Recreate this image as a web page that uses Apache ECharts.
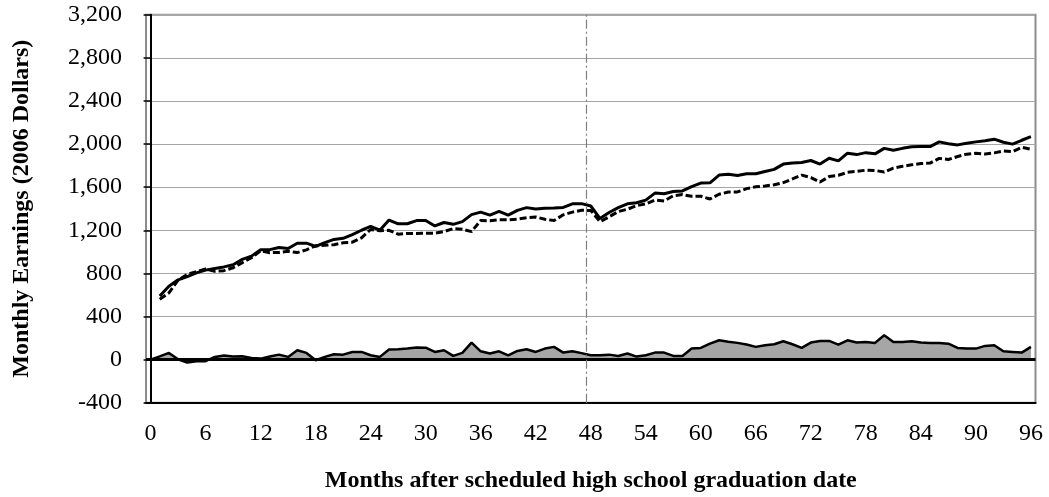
<!DOCTYPE html>
<html>
<head>
<meta charset="utf-8">
<script src="https://cdn.jsdelivr.net/npm/echarts@6/dist/echarts.min.js"></script>
<style>
html, body { margin: 0; padding: 0; background: #ffffff; }
#chart { width: 1049px; height: 497px; }
</style>
</head>
<body>
<div id="chart"></div>
<script>
// Months after scheduled high school graduation date (categories)
const months = [];
for (let m = 0; m <= 96; m++) months.push(String(m));

// Solid line: monthly earnings, group A (2006 dollars)
const solidEarnings = [null,
  590, 680, 740, 770, 805, 830, 845, 860, 880, 930,
  960, 1020, 1020, 1040, 1030, 1080, 1080, 1050, 1085, 1115,
  1125, 1160, 1200, 1235, 1200, 1295, 1260, 1260, 1290, 1290,
  1240, 1272, 1255, 1280, 1345, 1368, 1340, 1375, 1340, 1385,
  1410, 1398, 1405, 1407, 1412, 1445, 1447, 1425, 1310, 1365,
  1410, 1445, 1455, 1480, 1545, 1538, 1560, 1565, 1605, 1638,
  1640, 1712, 1720, 1708, 1724, 1724, 1745, 1765, 1814, 1823,
  1828, 1847, 1814, 1868, 1844, 1915, 1902, 1920, 1909, 1960,
  1942, 1960, 1975, 1976, 1976, 2020, 2003, 1992, 2008, 2020,
  2030, 2045, 2017, 1999, 2035, 2068];

// Dashed line: monthly earnings, group B (2006 dollars)
const dashedEarnings = [null,
  560, 618, 737, 790, 815, 840, 820, 825, 852, 899,
  945, 1011, 992, 994, 1005, 993, 1018, 1056, 1060, 1066,
  1084, 1089, 1130, 1207, 1195, 1200, 1163, 1170, 1170, 1172,
  1172, 1188, 1215, 1210, 1187, 1291, 1288, 1298, 1297, 1303,
  1316, 1323, 1302, 1290, 1343, 1368, 1385, 1384, 1280, 1325,
  1373, 1395, 1428, 1445, 1481, 1472, 1520, 1531, 1515, 1515,
  1490, 1534, 1555, 1556, 1586, 1603, 1611, 1622, 1642, 1676,
  1712, 1689, 1647, 1698, 1710, 1737, 1747, 1757, 1755, 1740,
  1777, 1794, 1807, 1819, 1823, 1867, 1857, 1884, 1906, 1914,
  1908, 1918, 1935, 1930, 1970, 1951];

// Shaded area: difference between the two lines
const difference = [0,
  30, 62, 3, -28, -15, -15, 25, 37, 28, 31,
  15, 9, 28, 46, 25, 87, 62, -6, 25, 49,
  46, 71, 71, 40, 25, 93, 97, 102, 112, 111,
  71, 87, 34, 62, 158, 77, 56, 77, 40, 80,
  96, 71, 102, 118, 65, 77, 60, 40, 40, 46,
  34, 56, 28, 40, 65, 65, 34, 34, 102, 108,
  148, 179, 165, 155, 140, 118, 133, 142, 170, 142,
  108, 158, 173, 173, 139, 179, 158, 164, 155, 226,
  164, 164, 170, 158, 155, 155, 148, 108, 102, 102,
  127, 133, 77, 71, 65, 118];

// Vertical marker between month 47 and 48
const markerMonth = 47.5;

const yAxisMin = -400, yAxisMax = 3200, yAxisStep = 400;

const chart = echarts.init(document.getElementById('chart'), null, { renderer: 'canvas' });
const font = 'Liberation Serif, Times New Roman, serif';

chart.setOption({
  animation: false,
  backgroundColor: '#ffffff',
  grid: {
    left: 146, right: 13.5, top: 14.7, bottom: 94.3,
    containLabel: false,
    outerBoundsMode: 'none',
    show: true,
    borderColor: '#8c8c8c',
    borderWidth: 2,
    backgroundColor: '#ffffff'
  },
  xAxis: [{
    type: 'category',
    data: months,
    boundaryGap: true,
    name: 'Months after scheduled high school graduation date',
    nameLocation: 'middle',
    nameGap: 66,
    nameTextStyle: { fontFamily: font, fontSize: 24, fontWeight: 'bold', color: '#000' },
    axisLine: { onZero: false, lineStyle: { color: '#000', width: 2 } },
    axisTick: { interval: 2, length: 7, alignWithLabel: false, lineStyle: { color: '#000', width: 1.5 } },
    axisLabel: { interval: 5, margin: 19, fontFamily: font, fontSize: 24, color: '#000' },
    splitLine: { show: false }
  }, {
    type: 'value',
    min: -0.5,
    max: 96.5,
    show: false
  }],
  yAxis: {
    type: 'value',
    min: yAxisMin,
    max: yAxisMax,
    interval: yAxisStep,
    name: 'Monthly Earnings (2006 Dollars)',
    nameLocation: 'middle',
    nameGap: 112,
    nameTextStyle: { fontFamily: font, fontSize: 24, fontWeight: 'bold', color: '#000' },
    axisLine: { show: true, lineStyle: { color: '#000', width: 2 } },
    axisTick: { show: true, length: 7, lineStyle: { color: '#000', width: 1.5 } },
    axisLabel: {
      margin: 24,
      fontFamily: font, fontSize: 24, color: '#000',
      formatter: v => v.toLocaleString('en-US')
    },
    splitLine: { show: true, lineStyle: { color: '#a6a6a6', width: 1.2 } }
  },
  series: [
    {
      name: 'Difference',
      type: 'line',
      data: difference,
      showSymbol: false,
      symbol: 'none',
      z: 2,
      lineStyle: { color: '#000', width: 2.5 },
      areaStyle: { color: '#a6a6a6', opacity: 1 },
      markLine: {
        silent: true,
        symbol: ['none', 'none'],
        label: { show: false },
        lineStyle: { color: '#000', width: 3, type: 'solid' },
        data: [{ yAxis: 0 }]
      }
    },
    {
      name: 'Marker',
      type: 'line',
      xAxisIndex: 1,
      data: [],
      z: 1,
      markLine: {
        silent: true,
        symbol: ['none', 'none'],
        label: { show: false },
        lineStyle: { color: '#808080', width: 1.2, type: [9, 3, 2, 3] },
        data: [{ xAxis: markerMonth }]
      }
    },
    {
      name: 'Dashed',
      type: 'line',
      data: dashedEarnings,
      showSymbol: false,
      symbol: 'none',
      z: 3,
      lineStyle: { color: '#000', width: 3, type: [7, 3] }
    },
    {
      name: 'Solid',
      type: 'line',
      data: solidEarnings,
      showSymbol: false,
      symbol: 'none',
      z: 4,
      lineStyle: { color: '#000', width: 3 }
    }
  ]
});
</script>
</body>
</html>
